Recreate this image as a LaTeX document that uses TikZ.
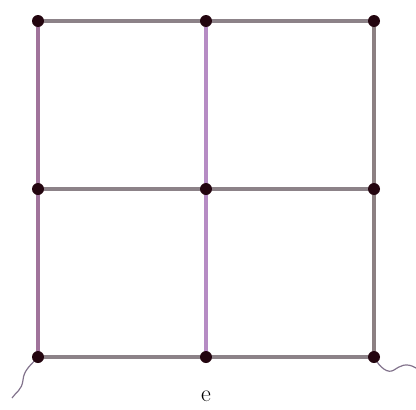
\documentclass[tikz,border=0pt]{standalone}
\definecolor{hgray}{RGB}{140,130,136}
\definecolor{lpurp}{RGB}{160,115,155}
\definecolor{mpurp}{RGB}{182,140,196}
\definecolor{rgray}{RGB}{140,128,130}
\definecolor{dotc}{RGB}{35,5,15}
\definecolor{leadc}{RGB}{130,115,140}
\begin{document}
\begin{tikzpicture}[x=1pt,y=-1pt,
  dot/.style={circle,fill=dotc,inner sep=0pt,minimum size=12pt},
  hwire/.style={line width=3.2pt,draw=hgray},
  lwire/.style={line width=3.2pt,draw=lpurp},
  mwire/.style={line width=3.2pt,draw=mpurp},
  rwire/.style={line width=3.2pt,draw=rgray},
  lead/.style={line width=1.2pt,draw=leadc}]
\useasboundingbox (0,0) rectangle (416,410);
\foreach \c/\x in {a/38,b/206,c/374}{
  \foreach \r/\y in {1/21,2/189,3/357}{
    \coordinate (\c\r) at (\x,\y);
  }
}
% vertical wires
\draw[lwire] (a1) -- (a2) -- (a3);
\draw[mwire] (b1) -- (b2) -- (b3);
\draw[rwire] (c1) -- (c2) -- (c3);
% horizontal wires
\draw[hwire] (a1) -- (b1) -- (c1);
\draw[hwire] (a2) -- (b2) -- (c2);
\draw[hwire] (a3) -- (b3) -- (c3);
% leads
\coordinate (lend) at (12,398);
\coordinate (rend) at (416,368);
\draw[lead] (a3) .. controls (30,366) and (24,370) .. (23,380) .. controls (22,390) and (16,392) .. (lend);
\draw[lead] (c3) .. controls (380,368) and (388,374) .. (394,370) .. controls (400,366) and (406,362) .. (rend);
% dots
\foreach \n in {a1,a2,a3,b1,b2,b3,c1,c2,c3}{
  \node[dot] (d\n) at (\n) {};
}
\node (lab) at (206,396) {\fontsize{24}{24}\selectfont e};
\end{tikzpicture}
\end{document}
